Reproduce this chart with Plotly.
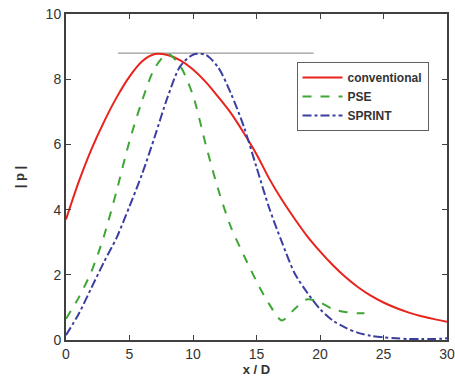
import plotly.graph_objects as go

# |p| along the streamwise coordinate x/D for three methods
x_conv = list(range(0, 31))
p_conv = [3.7, 4.85, 5.85, 6.7, 7.45, 8.08, 8.55, 8.77, 8.74, 8.58, 8.3, 7.92, 7.45, 6.95,
          6.35, 5.7, 4.95, 4.3, 3.72, 3.18, 2.72, 2.3, 1.93, 1.62, 1.36, 1.15, 0.98, 0.84,
          0.73, 0.64, 0.56]

x_pse = [0, 1, 2, 3, 4, 5, 6, 7, 8, 9, 10, 11, 12, 13, 14, 15, 16, 17, 18, 19, 20, 21, 22,
         23, 23.5]
p_pse = [0.65, 1.3, 2.1, 3.2, 4.6, 6.1, 7.35, 8.35, 8.78, 8.4, 7.5, 6.0, 4.6, 3.45, 2.6,
         1.8, 1.1, 0.6, 0.95, 1.25, 1.15, 0.95, 0.86, 0.82, 0.82]

x_sprint = list(range(0, 31))
p_sprint = [0.15, 0.8, 1.6, 2.4, 3.15, 4.1, 5.1, 6.25, 7.45, 8.4, 8.75, 8.75, 8.35, 7.55,
            6.55, 5.3, 4.05, 3.0, 2.05, 1.45, 0.95, 0.6, 0.38, 0.22, 0.13, 0.08, 0.05,
            0.03, 0.03, 0.03, 0.05]

# reference level of the common peak
x_ref = [4.1, 19.5]
p_ref = [8.8, 8.8]

fig = go.Figure()
fig.add_trace(go.Scatter(x=x_ref, y=p_ref, mode="lines", showlegend=False,
                         line=dict(color="#808080", width=1)))
fig.add_trace(go.Scatter(x=x_conv, y=p_conv, mode="lines", name="conventional",
                         line=dict(color="#e8231c", width=2, shape="spline", smoothing=0.8)))
fig.add_trace(go.Scatter(x=x_pse, y=p_pse, mode="lines", name="PSE",
                         line=dict(color="#3fa535", width=2, dash="dash", shape="spline",
                                   smoothing=0.8)))
fig.add_trace(go.Scatter(x=x_sprint, y=p_sprint, mode="lines", name="SPRINT",
                         line=dict(color="#3a3ea0", width=2, dash="dashdot", shape="spline",
                                   smoothing=0.8)))

axis_common = dict(showline=True, linecolor="#404040", linewidth=2, mirror="ticks",
                   ticks="inside", ticklen=5, tickcolor="#404040", showgrid=False,
                   zeroline=False, automargin=False,
                   tickfont=dict(family="Liberation Sans", size=14, color="#333333"))

fig.update_layout(
    width=455, height=380,
    margin=dict(l=66, r=8, t=14, b=40),
    paper_bgcolor="white", plot_bgcolor="white",
    xaxis=dict(range=[0, 30], tickvals=[0, 5, 10, 15, 20, 25, 30],
               title=dict(text="<b>x / D</b>", standoff=4,
                          font=dict(family="Liberation Sans", size=13, color="#333333")),
               **axis_common),
    yaxis=dict(range=[0, 10], tickvals=[0, 2, 4, 6, 8, 10],
               title=dict(text="<b>| p |</b>", standoff=18,
                          font=dict(family="Liberation Sans", size=13, color="#333333")),
               **axis_common),
    legend=dict(x=0.605, y=0.853, xanchor="left", yanchor="top",
                bgcolor="white", bordercolor="#606060", borderwidth=1,
                font=dict(family="Liberation Sans", size=12, color="#333333",
                          weight="bold"),
                tracegroupgap=0, itemwidth=40),
)

fig.write_html("out.html")
